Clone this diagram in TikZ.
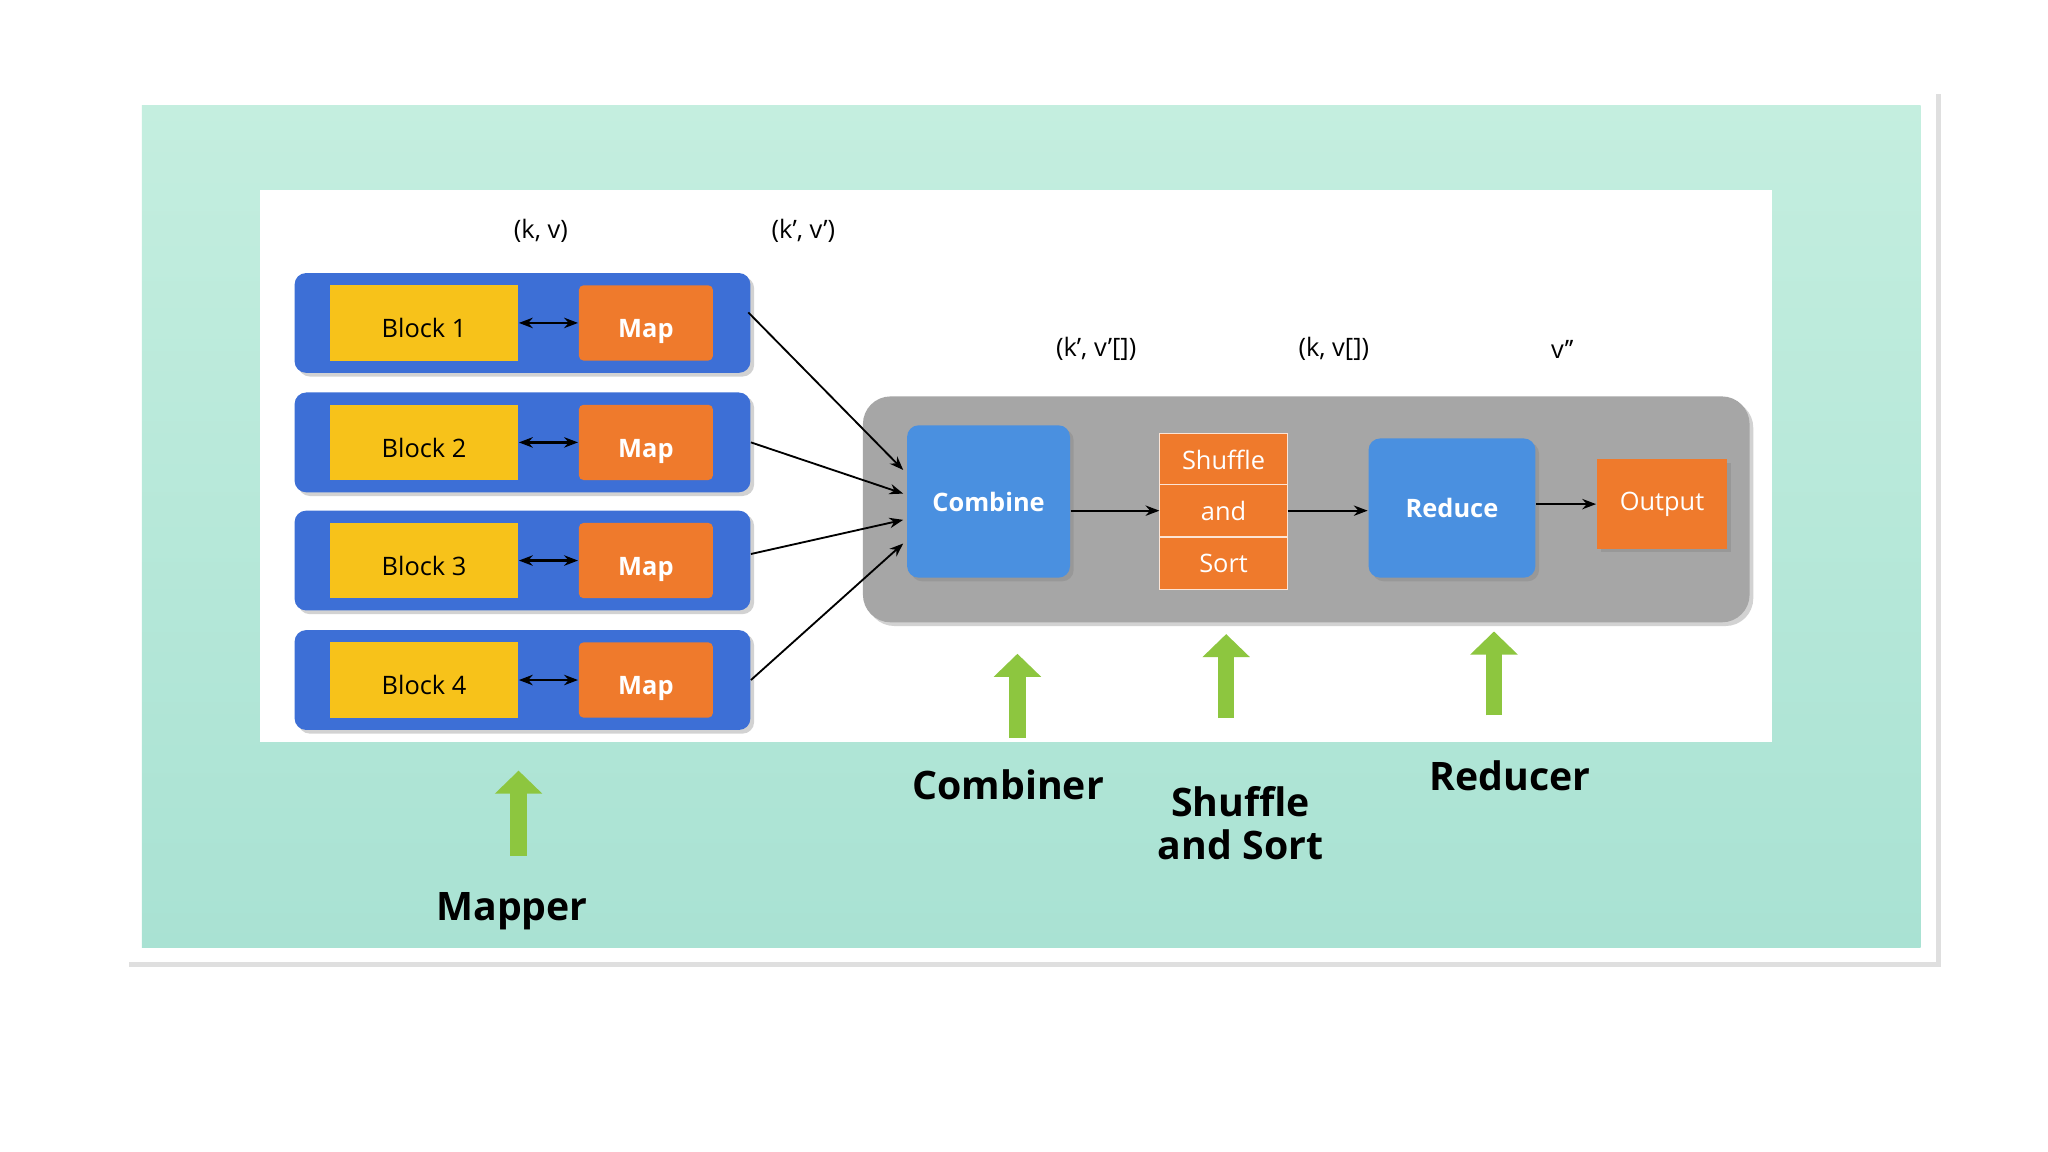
\documentclass[tikz,border=0pt]{standalone}
\usepackage{fontspec}
\setmainfont{Open Sans}
\usetikzlibrary{arrows.meta,shadows}
\definecolor{teal1}{HTML}{A9E2D3}
\definecolor{teal2}{HTML}{C4EEDF}
\definecolor{rowblue}{HTML}{3D6FD6}
\definecolor{boxblue}{HTML}{4A90E0}
\definecolor{blockyel}{HTML}{F7C21A}
\definecolor{maporange}{HTML}{EF7A2C}
\definecolor{panelgray}{HTML}{A6A6A6}
\definecolor{upgreen}{HTML}{8DC63F}
\begin{document}
\begin{tikzpicture}[x=0.01cm,y=-0.01cm,
    shad/.style={drop shadow={shadow xshift=0.8pt,shadow yshift=-0.8pt,opacity=0.35}},
    row/.style={draw=none,fill=rowblue,rounded corners=2.5pt,minimum width=3.47cm,minimum height=0.76cm,shad},
    block/.style={fill=blockyel,minimum width=1.43cm,minimum height=0.40cm,text height=1.5ex,text depth=0.3ex,font=\fontsize{5.5}{6}\selectfont},
    map/.style={fill=maporange,rounded corners=1pt,minimum width=1.02cm,minimum height=0.40cm,text height=1.5ex,text depth=0.3ex,text=white,font=\fontsize{5.5}{6}\selectfont\bfseries},
    stage/.style={fill=boxblue,rounded corners=2.5pt,text=white,font=\fontsize{5.5}{6}\selectfont\bfseries,shad},
    seg/.style={fill=maporange,draw=white!80!maporange,line width=0.2pt,minimum width=0.97cm,minimum height=0.393cm,text=white,font=\fontsize{5.5}{6}\selectfont},
    flow/.style={-{Stealth[length=3pt]},line width=0.4pt},
    up/.style={-{Triangle[length=5pt,width=10pt]},line width=3.5pt,draw=upgreen},
    lbl/.style={font=\fontsize{5.5}{6}\selectfont},
    role/.style={font=\fontsize{8.5}{9.5}\selectfont\bfseries,align=center}]
    \useasboundingbox (0,0) rectangle (1560,877);
    % card and background
    \fill[white,drop shadow={shadow xshift=1pt,shadow yshift=-1pt,opacity=0.25}] (95,68) rectangle (1475,733);
    \shade[top color=teal2,bottom color=teal1] (108,80) rectangle (1463,722);
    \fill[white] (198,145) rectangle (1350,565);
    % types
    \node[lbl] (kv) at (412,176) {(k, v)};
    \node[lbl] (kv1) at (612,176) {(k’, v’)};
    \node[lbl] (kvl1) at (835,266) {(k’, v’[])};
    \node[lbl] (kvl) at (1016,266) {(k, v[])};
    \node[lbl] (vv) at (1190,266) {v’’};
    % map rows
    \foreach \i/\y in {1/246,2/337,3/427,4/518} {
        \node[row] (r\i) at (398,\y) {};
        \node[block] (b\i) at (323,\y) {Block \i};
        \node[map] (m\i) at (492,\y) {Map};
        \draw[{Stealth[length=3pt]}-{Stealth[length=3pt]},line width=0.6pt] (b\i) -- (m\i);
    }
    % pipeline
    \node[fill=panelgray,rounded corners=6pt,minimum width=6.75cm,minimum height=1.72cm,shad] (pan) at (995,388) {};
    \node[stage,minimum width=1.24cm,minimum height=1.16cm] (comb) at (753,382) {Combine};
    \node[seg] (s1) at (932,350) {Shuffle};
    \node[seg] (s2) at (932,389) {and};
    \node[seg] (s3) at (932,429) {Sort};
    \node[stage,minimum width=1.27cm,minimum height=1.06cm] (red) at (1106,387) {Reduce};
    \node[fill=maporange,minimum width=0.99cm,minimum height=0.68cm,text=white,font=\fontsize{5.5}{6}\selectfont,shad] (out) at (1266,384) {Output};
    \coordinate (c1) at (688,358);
    \coordinate (c2) at (688,376);
    \coordinate (c3) at (688,396);
    \coordinate (c4) at (688,414);
    \coordinate (e1) at (570,238);
    \coordinate (e2) at (572,337);
    \coordinate (e3) at (572,422);
    \coordinate (e4) at (572,518);
    \foreach \i in {1,...,4} \draw[flow] (e\i) -- (c\i);
    \draw[flow] (comb.east |- s2) -- (s2.west);
    \draw[flow] (s2.east) -- (red.west |- s2);
    \draw[flow] (red.east |- out) -- (out.west);
    % roles
    \coordinate (u1) at (775,562); \coordinate (u1t) at (775,498);
    \coordinate (u2) at (934,547); \coordinate (u2t) at (934,483);
    \coordinate (u3) at (1138,545); \coordinate (u3t) at (1138,481);
    \coordinate (u4) at (395,652); \coordinate (u4t) at (395,587);
    \foreach \i in {1,...,4} \draw[up] (u\i) -- (u\i t);
    \node[role] (rc) at (768,598) {Combiner};
    \node[role] (rs) at (945,627) {Shuffle\\and Sort};
    \node[role] (rr) at (1150,591) {Reducer};
    \node[role] (rm) at (390,694) {Mapper};
\end{tikzpicture}
\end{document}
